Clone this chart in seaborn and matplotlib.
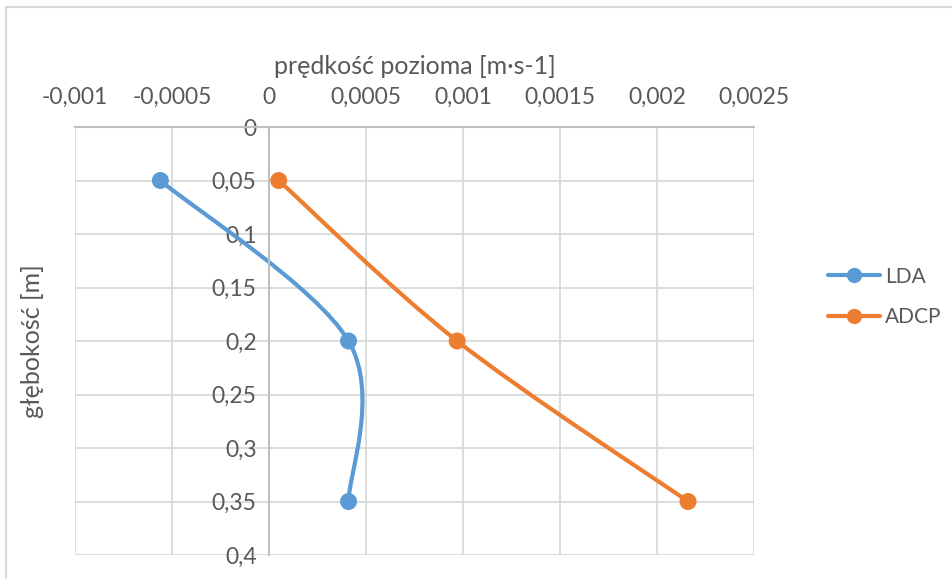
import numpy as np
import pandas as pd
import seaborn as sns
import matplotlib
matplotlib.use("Agg")
import matplotlib.pyplot as plt
from matplotlib.path import Path
from matplotlib.patches import PathPatch, Rectangle
from matplotlib.lines import Line2D
from matplotlib.ticker import FuncFormatter, MultipleLocator

# Measured profiles: depth [m] and horizontal velocity [m/s]
depth = [0.05, 0.2, 0.35]
lda_velocity = [-0.00056, 0.00041, 0.00041]
adcp_velocity = [0.00005, 0.00097, 0.00216]
series_names = ["LDA", "ADCP"]
series_colors = ["#5B9BD5", "#ED7D31"]

x_label = "prędkość pozioma [m·s-1]"
y_label = "głębokość [m]"

sns.set_theme(style="white")
plt.rcParams["font.family"] = ["Lato", "DejaVu Sans"]
text_color = "#595959"
grid_color = "#d9d9d9"
axis_color = "#bfbfbf"
tick_size = 16.5
label_size = 18

df = pd.DataFrame({
    "depth": depth * 2,
    "velocity": lda_velocity + adcp_velocity,
    "series": [series_names[0]] * len(depth) + [series_names[1]] * len(depth),
})

fig = plt.figure(figsize=(9.53, 5.79), dpi=100)
ax = fig.add_axes([75 / 953, 1 - 555 / 579, (754 - 75) / 953, (555 - 127) / 579])

ax.set_xlim(-0.001, 0.0025)
ax.set_ylim(0.4, 0.0)
ax.xaxis.set_major_locator(MultipleLocator(0.0005))
ax.yaxis.set_major_locator(MultipleLocator(0.05))


def comma_fmt(v, _pos=None):
    if abs(v) < 1e-12:
        return "0"
    return "{:g}".format(round(v, 6)).replace(".", ",")


ax.xaxis.set_major_formatter(FuncFormatter(comma_fmt))
ax.yaxis.set_major_formatter(FuncFormatter(comma_fmt))

ax.grid(True, color=grid_color, linewidth=1.3)
ax.set_axisbelow(True)

# Value axis crossing at zero, labels placed next to it
ax.spines["left"].set_position(("data", 0))
ax.spines["left"].set_color(axis_color)
ax.spines["left"].set_linewidth(1.5)
ax.spines["top"].set_color(axis_color)
ax.spines["top"].set_linewidth(1.5)
ax.spines["right"].set_visible(False)
ax.spines["bottom"].set_visible(False)

ax.xaxis.tick_top()
ax.xaxis.set_label_position("top")
ax.tick_params(axis="x", length=0, pad=14, labelsize=tick_size, labelcolor=text_color)
ax.tick_params(axis="y", length=0, pad=9, labelsize=tick_size, labelcolor=text_color)


def smooth_path(xs, ys):
    """Cardinal-spline path through the points, computed in screen space."""
    pts = ax.transData.transform(np.column_stack([xs, ys]))
    n = len(pts)
    verts = [pts[0]]
    codes = [Path.MOVETO]
    for i in range(n - 1):
        p0 = pts[max(i - 1, 0)]
        p1 = pts[i]
        p2 = pts[i + 1]
        p3 = pts[min(i + 2, n - 1)]
        c1 = p1 + (p2 - p0) / 6.0
        c2 = p2 - (p3 - p1) / 6.0
        verts += [c1, c2, p2]
        codes += [Path.CURVE4] * 3
    verts = ax.transData.inverted().transform(np.array(verts))
    return Path(verts, codes)


for name, color in zip(series_names, series_colors):
    sub = df[df["series"] == name]
    patch = PathPatch(smooth_path(sub["velocity"].values, sub["depth"].values),
                      facecolor="none", edgecolor=color, linewidth=3.0,
                      capstyle="round", zorder=2)
    ax.add_patch(patch)

sns.scatterplot(data=df, x="velocity", y="depth", hue="series",
                palette=dict(zip(series_names, series_colors)),
                s=150, edgecolor="none", legend=False, zorder=3, ax=ax)
ax.set_xlabel(x_label, fontsize=label_size, color=text_color, labelpad=9)
ax.set_ylabel(y_label, fontsize=label_size, color=text_color)
ax.yaxis.set_label_coords(-0.045, 0.5)

handles = [Line2D([0], [0], color=c, linewidth=3.0, marker="o", markersize=11,
                  markeredgewidth=0) for c in series_colors]
fig.legend(handles, series_names, loc="center left",
           bbox_to_anchor=(809 / 953, 1 - 297 / 579), frameon=False,
           fontsize=15, labelcolor=text_color, handlelength=2.5,
           handletextpad=0.24, labelspacing=1.0)

# Chart-area frame
fig.patches.append(Rectangle((6 / 953, -0.2), 1.2, 1.2 - 7 / 579,
                             transform=fig.transFigure, fill=False,
                             edgecolor=grid_color, linewidth=1.5))

fig.savefig("out.png", dpi=100)
